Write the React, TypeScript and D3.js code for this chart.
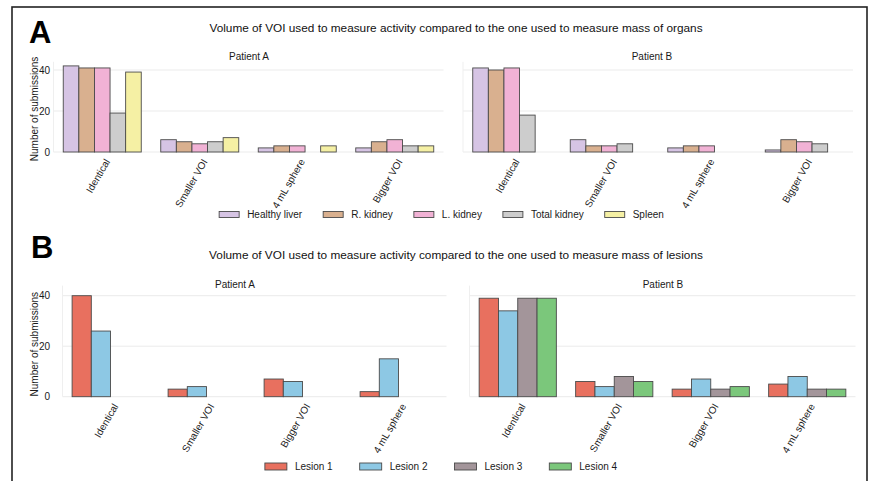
import React, { useEffect, useRef } from "react";
import * as d3 from "d3";

const organCategories = ["Identical", "Smaller VOI", "4 mL sphere", "Bigger VOI"];
const organs = ["Healthy liver", "R. kidney", "L. kidney", "Total kidney", "Spleen"];
const organColors = ["#d6c4e4", "#d9b08f", "#f1b2d5", "#cdcdcd", "#f5f0a4"];
// values per organ, per category
const organPatientA: (number | null)[][] = [
  [42, 6, 2, 2],
  [41, 5, 3, 5],
  [41, 4, 3, 6],
  [19, 5, null, 3],
  [39, 7, 3, 3],
];
const organPatientB: (number | null)[][] = [
  [41, 6, 2, 1],
  [40, 3, 3, 6],
  [41, 3, 3, 5],
  [18, 4, null, 4],
  [null, null, null, null],
];

const lesionCategories = ["Identical", "Smaller VOI", "Bigger VOI", "4 mL sphere"];
const lesions = ["Lesion 1", "Lesion 2", "Lesion 3", "Lesion 4"];
const lesionColors = ["#e8705f", "#8dc8e4", "#a3959a", "#7bc77b"];
const lesionPatientA: (number | null)[][] = [
  [40, 3, 7, 2],
  [26, 4, 6, 15],
  [null, null, null, null],
  [null, null, null, null],
];
const lesionPatientB: (number | null)[][] = [
  [39, 6, 3, 5],
  [34, 4, 7, 8],
  [39, 8, 3, 3],
  [39, 6, 4, 3],
];

const yTicks = [0, 20, 40];
const FONT = "'Liberation Sans', Arial, Helvetica, sans-serif";

export default function App() {
  const ref = useRef<SVGSVGElement>(null);

  useEffect(() => {
    const svg = d3.select(ref.current);
    svg.selectAll("*").remove();

    svg.append("rect").attr("width", 875).attr("height", 481).attr("fill", "#fff");
    svg
      .append("rect")
      .attr("x", 12)
      .attr("y", 7)
      .attr("width", 855)
      .attr("height", 500)
      .attr("fill", "none")
      .attr("stroke", "#222")
      .attr("stroke-width", 1.6);

    type PanelOpts = {
      x0: number;
      x1: number;
      y0: number;
      y40: number;
      cats: string[];
      series: (number | null)[][];
      colors: string[];
      title: string;
      titleX: number;
      titleY: number;
      showY: boolean;
    };

    function panel(o: PanelOpts) {
      const g = svg.append("g");
      const x = d3.scaleBand<string>().domain(o.cats).range([o.x0, o.x1]).paddingInner(0).paddingOuter(0);
      const y = d3.scaleLinear().domain([0, 40]).range([o.y0, o.y40]);
      const n = o.series.length;
      const sub = d3
        .scaleBand<number>()
        .domain(d3.range(n))
        .range([0, x.bandwidth() * 0.8]);

      // grid
      g.selectAll("line.grid")
        .data(yTicks)
        .join("line")
        .attr("x1", o.x0)
        .attr("x2", o.x1)
        .attr("y1", (d) => y(d))
        .attr("y2", (d) => y(d))
        .attr("stroke", "#ebebeb")
        .attr("stroke-width", 1);
      g.append("line")
        .attr("x1", o.x0)
        .attr("x2", o.x0)
        .attr("y1", y(0))
        .attr("y2", y(44))
        .attr("stroke", "#efefef");

      // bars
      o.series.forEach((vals, si) => {
        g.selectAll(`rect.s${si}`)
          .data(vals.map((v, ci) => ({ v, c: o.cats[ci] })).filter((d) => d.v != null))
          .join("rect")
          .attr("x", (d) => (x(d.c) as number) + x.bandwidth() * 0.1 + (sub(si) as number))
          .attr("width", sub.bandwidth())
          .attr("y", (d) => y(d.v as number))
          .attr("height", (d) => y(0) - y(d.v as number))
          .attr("fill", o.colors[si])
          .attr("stroke", "#4a4a4a")
          .attr("stroke-width", 0.9);
      });

      // y ticks
      if (o.showY) {
        g.selectAll("text.yt")
          .data(yTicks)
          .join("text")
          .attr("x", 50)
          .attr("y", (d) => y(d))
          .attr("dy", "0.35em")
          .attr("text-anchor", "end")
          .attr("font-size", 10)
          .attr("fill", "#1a1a1a")
          .attr("font-family", FONT)
          .text((d) => String(d));
        g.append("text")
          .attr("transform", `translate(38,${(y(0) + y(40)) / 2 - 2}) rotate(-90)`)
          .attr("text-anchor", "middle")
          .attr("font-size", 10)
          .attr("fill", "#1a1a1a")
          .attr("font-family", FONT)
          .text("Number of submissions");
      }

      // x tick labels
      g.selectAll("text.xt")
        .data(o.cats)
        .join("text")
        .attr(
          "transform",
          (d) => `translate(${(x(d) as number) + x.bandwidth() / 2 + 2},${o.y0 + 6}) rotate(-60)`
        )
        .attr("text-anchor", "end")
        .attr("dy", "0.7em")
        .attr("font-size", 10)
        .attr("fill", "#1a1a1a")
        .attr("font-family", FONT)
        .text((d) => d);

      g.append("text")
        .attr("x", o.titleX)
        .attr("y", o.titleY)
        .attr("text-anchor", "middle")
        .attr("font-size", 10)
        .attr("fill", "#1a1a1a")
        .attr("font-family", FONT)
        .text(o.title);
    }

    function legend(names: string[], colors: string[], cx: number, cy: number, pw: number, ph: number, gapAfter: number) {
      const g = svg.append("g");
      const items = names.map((name, i) => {
        const t = g
          .append("text")
          .attr("font-size", 10)
          .attr("fill", "#1a1a1a")
          .attr("font-family", FONT)
          .attr("dy", "0.35em")
          .text(name);
        const w = (t.node() as SVGTextElement).getComputedTextLength();
        return { t, w, c: colors[i] };
      });
      const gapText = 8;
      const total = d3.sum(items, (d) => pw + gapText + d.w) + gapAfter * (items.length - 1);
      let cur = cx - total / 2;
      items.forEach((it) => {
        g.append("rect")
          .attr("x", cur)
          .attr("y", cy - ph / 2)
          .attr("width", pw)
          .attr("height", ph)
          .attr("fill", it.c)
          .attr("stroke", "#4a4a4a")
          .attr("stroke-width", 0.9);
        it.t.attr("x", cur + pw + gapText).attr("y", cy);
        cur += pw + gapText + it.w + gapAfter;
      });
    }

    function heading(letter: string, lx: number, ly: number, title: string, ty: number) {
      svg
        .append("text")
        .attr("x", lx)
        .attr("y", ly)
        .attr("font-size", 31)
        .attr("font-weight", "bold")
        .attr("fill", "#000")
        .attr("font-family", FONT)
        .text(letter);
      svg
        .append("text")
        .attr("x", 456)
        .attr("y", ty)
        .attr("text-anchor", "middle")
        .attr("font-size", 11.8)
        .attr("fill", "#111")
        .attr("font-family", FONT)
        .text(title);
    }

    heading("A", 29, 43, "Volume of VOI used to measure activity compared to the one used to measure mass of organs", 31.5);
    heading("B", 31, 258, "Volume of VOI used to measure activity compared to the one used to measure mass of lesions", 259);

    panel({
      x0: 53.5, x1: 443.5, y0: 152, y40: 70, cats: organCategories, series: organPatientA,
      colors: organColors, title: "Patient A", titleX: 249, titleY: 60, showY: true,
    });
    panel({
      x0: 463, x1: 853, y0: 152, y40: 70, cats: organCategories, series: organPatientB,
      colors: organColors, title: "Patient B", titleX: 652, titleY: 60, showY: false,
    });
    panel({
      x0: 62.5, x1: 446.5, y0: 396.7, y40: 295.7, cats: lesionCategories, series: lesionPatientA,
      colors: lesionColors, title: "Patient A", titleX: 235, titleY: 288, showY: true,
    });
    panel({
      x0: 469.5, x1: 855.5, y0: 396.7, y40: 295.7, cats: lesionCategories, series: lesionPatientB,
      colors: lesionColors, title: "Patient B", titleX: 663, titleY: 288, showY: false,
    });

    legend(organs, organColors, 441.5, 214.5, 20, 6, 21);
    legend(lesions, lesionColors, 441, 466.5, 22, 7, 27);
  }, []);

  return (
    <svg
      ref={ref}
      width={875}
      height={481}
      style={{ position: "absolute", left: 0, top: 0, display: "block" }}
    />
  );
}
